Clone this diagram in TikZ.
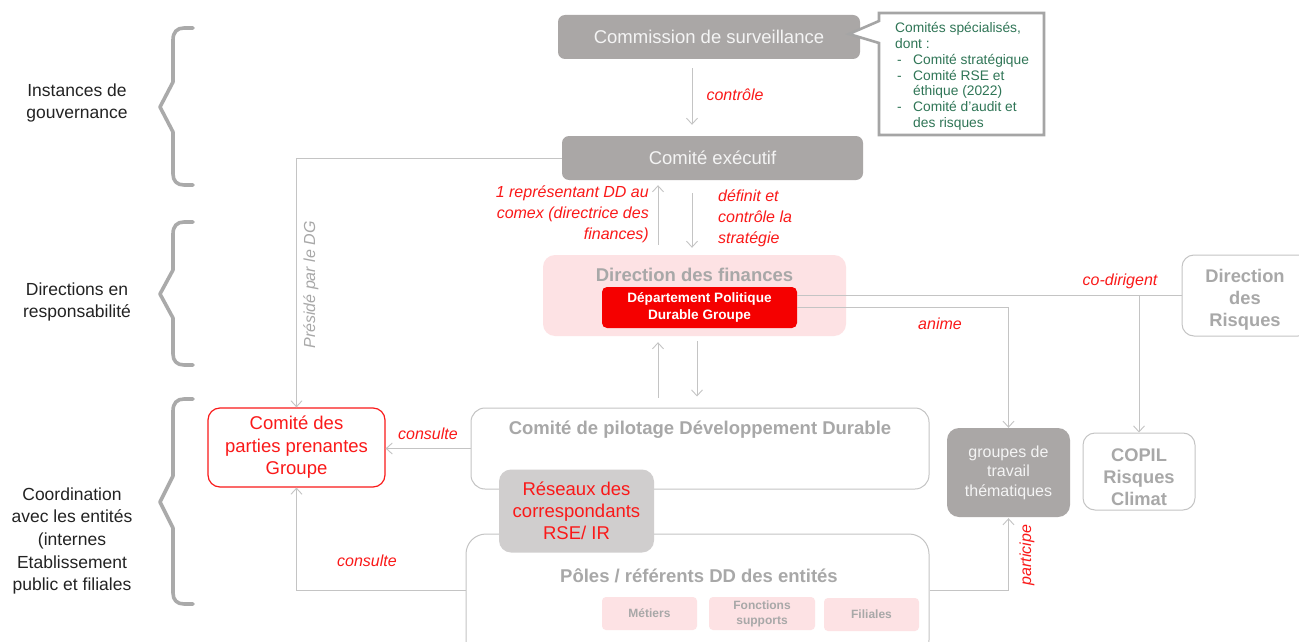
\documentclass[tikz,border=0pt]{standalone}
\usepackage{fontspec}
\setmainfont{Liberation Sans}
\usetikzlibrary{arrows.meta,calc}
\definecolor{boxgray}{RGB}{170,167,166}
\definecolor{boxtext}{RGB}{244,244,244}
\definecolor{lightfill}{RGB}{208,206,206}
\definecolor{pinkfill}{RGB}{253,226,228}
\definecolor{titlegray}{RGB}{168,168,168}
\definecolor{bordergray}{RGB}{196,196,196}
\definecolor{linegray}{RGB}{196,196,196}
\definecolor{redbox}{RGB}{245,0,0}
\definecolor{redtext}{RGB}{250,25,25}
\definecolor{greentext}{RGB}{47,117,86}
\definecolor{bracegray}{RGB}{170,170,170}
\definecolor{sidetext}{RGB}{35,35,35}
\definecolor{callborder}{RGB}{165,165,165}
\newcommand\fsz[2]{\fontsize{#1}{#2}\selectfont}
\tikzset{
  gbox/.style={rounded corners=7pt, fill=boxgray, text=boxtext, inner sep=0pt, align=center, font=\fsz{18.5}{22}},
  wbox/.style={rounded corners=12pt, draw=bordergray, line width=1pt, fill=white, inner sep=0pt},
  ttl/.style={text=titlegray, font=\fsz{18.5}{22}\bfseries, inner sep=0pt, align=center},
  smallpink/.style={rounded corners=4pt, fill=pinkfill, text=titlegray, font=\fsz{12}{15}\bfseries, inner sep=0pt, align=center},
  arr/.style={draw=linegray, line width=0.9pt, -{Straight Barb[length=6pt,width=11pt,line width=0.9pt]}},
  plain/.style={draw=linegray, line width=0.9pt},
  lab/.style={text=redtext, font=\fsz{16}{21}\itshape, inner sep=0pt},
  side/.style={text=sidetext, font=\fsz{17.5}{22.6}, align=center, inner sep=0pt},
  bracestyle/.style={draw=bracegray, line width=3.6pt, line cap=round, line join=round},
}
\begin{document}
\begin{tikzpicture}[x=1pt,y=-1pt]
\useasboundingbox (0,0) rectangle (1299,642);
\clip (0,0) rectangle (1299,642);
\fill[white] (0,0) rectangle (1299,642);

% side labels
\node[side] (l1) at (77,103) {Instances de\\gouvernance};
\node[side] (l2) at (77,302) {Directions en\\responsabilité};
\node[side] (l3) at (72,541) {Coordination\\avec les entités\\(internes\\Etablissement\\public et filiales};

% braces
\draw[bracestyle] (193,28) -- (184,28) .. controls (177,28) and (173,32) .. (173,40) -- (173,82) -- (160,107) -- (173,132) -- (173,174) .. controls (173,181) and (177,185) .. (184,185) -- (193,185);
\draw[bracestyle] (193,222) -- (184,222) .. controls (177,222) and (173,226) .. (173,234) -- (173,270) -- (160,294) -- (173,318) -- (173,354) .. controls (173,361) and (177,365) .. (184,365) -- (193,365);
\draw[bracestyle] (193,399) -- (184,399) .. controls (177,399) and (173,403) .. (173,411) -- (173,476) -- (160,502) -- (173,528) -- (173,593) .. controls (173,600) and (177,604) .. (184,604) -- (193,604);

% governance
\node[gbox, minimum width=302pt, minimum height=44pt] (cs) at (709,37) {Commission de surveillance};
\node[gbox, minimum width=301pt, minimum height=44pt] (ce) at (712.5,158) {Comité exécutif};

% callout
\draw[draw=callborder, line width=2.6pt, fill=white, line join=miter] (879,13) -- (1044,13) -- (1044,135) -- (879,135) -- (879,43) -- (849,34) -- (879,21) -- cycle;
\node[anchor=north west, text=greentext, font=\fsz{13.8}{15.9}, inner sep=0pt, align=left] (ct) at (895,22) {Comités spécialisés,\\dont :\\\hspace*{2pt}\makebox[16pt][l]{-}Comité stratégique\\\hspace*{2pt}\makebox[16pt][l]{-}Comité RSE et\\\hspace*{18pt}éthique (2022)\\\hspace*{2pt}\makebox[16pt][l]{-}Comité d’audit et\\\hspace*{18pt}des risques};

% directions
\node[rounded corners=12pt, fill=pinkfill, minimum width=303pt, minimum height=81pt, inner sep=0pt] (dfin) at (694.5,295.5) {};
\node[ttl] (dfint) at (694.5,275) {Direction des finances};
\node[rounded corners=5pt, fill=redbox, text=white, font=\fsz{13.6}{17.5}\bfseries, align=center, minimum width=195pt, minimum height=41pt, inner sep=0pt] (dpdg) at (699.5,307.5) {Département Politique\\Durable Groupe};
\node[wbox, rounded corners=12pt, minimum width=128pt, minimum height=81pt] (dr) at (1246,295.5) {};
\node[ttl, font=\fsz{18.3}{22}\bfseries] (drt) at (1245,300) {Direction\\des\\Risques};

% coordination
\node[wbox, rounded corners=14pt, minimum width=458pt, minimum height=81pt] (pil) at (700,448.5) {};
\node[ttl] (pilt) at (700,430) {Comité de pilotage Développement Durable};
\node[wbox, rounded corners=20pt, minimum width=463pt, minimum height=126pt] (pol) at (697.5,597) {};
\node[ttl] (polt) at (699,576) {Pôles / référents DD des entités};
\node[smallpink, minimum width=95pt, minimum height=33pt] (met) at (649.5,613.5) {Métiers};
\node[smallpink, minimum width=106pt, minimum height=33pt] (fon) at (762,613.5) {Fonctions\\supports};
\node[smallpink, minimum width=95pt, minimum height=33pt] (fil) at (871.5,614.5) {Filiales};
\node[rounded corners=12pt, fill=lightfill, text=redtext, font=\fsz{18.5}{22}, align=center, minimum width=155pt, minimum height=83pt, inner sep=0pt] (res) at (576.5,511) {Réseaux des\\correspondants\\RSE/ IR};
\node[rounded corners=12pt, draw=redtext, line width=1.2pt, fill=white, text=redtext, font=\fsz{18.5}{22.5}, align=center, minimum width=177pt, minimum height=79pt, inner sep=0pt] (cpp) at (296.5,447.5) {Comité des\\parties prenantes\\Groupe};
\node[gbox, rounded corners=12pt, font=\fsz{16}{19.5}, minimum width=123pt, minimum height=89pt] (grp) at (1008.5,472.5) {groupes de\\travail\\thématiques};
\node[wbox, rounded corners=12pt, minimum width=112pt, minimum height=77pt] (copil) at (1139,471.5) {};
\node[ttl, font=\fsz{18.3}{22}\bfseries] (copilt) at (1139,477) {COPIL\\Risques\\Climat};

% connectors
\draw[arr, shorten <=9pt, shorten >=11pt] ([xshift=-17pt]cs.south) -- ([xshift=-20.5pt]ce.north);
\node[lab] (lctrl) at (735,95) {contrôle};

\draw[arr, shorten <=10pt, shorten >=5pt] ([xshift=-36.5pt]dfin.north) -- ([xshift=-54.5pt]ce.south);
\node[lab, align=right, anchor=east] (lrep) at (649,214) {1 représentant DD au\\comex (directrice des\\finances)};
\draw[arr, shorten <=13pt, shorten >=7pt] ([xshift=-20.5pt]ce.south) -- ([xshift=-2.5pt]dfin.north);
\node[lab, align=left, anchor=west] (ldef) at (718,218) {définit et\\contrôle la\\stratégie};

\draw[arr, shorten <=10pt, shorten >=6pt] ([xshift=-42pt]pil.north) -- ([xshift=-36.5pt]dfin.south);
\draw[arr, shorten <=5pt, shorten >=11pt] ([xshift=2.5pt]dfin.south) -- ([xshift=-3pt]pil.north);

\draw[plain] (dpdg.east |- dr.west) -- (dr.west);
\draw[arr] (copil.north |- dr.west) -- (copil.north);
\node[lab] (lco) at (1120,281) {co-dirigent};

\draw[arr] (dpdg.east) -| (grp.north);
\node[lab] (lan) at (940,324) {anime};

\draw[arr] (ce.west) -| (cpp.north);
\node[lab, text=titlegray, rotate=90] (lpres) at (311,285) {Présidé par le DG};

\draw[arr] (pil.west) -- (pil.west -| cpp.east);
\node[lab] (lcons1) at (428,434) {consulte};

\coordinate (pl) at ([yshift=7pt]pol.west);
\draw[arr] (pl) -| (cpp.south);
\node[lab] (lcons2) at (367,561) {consulte};

\coordinate (pr) at ([yshift=7pt]pol.east);
\draw[arr, shorten >=1pt] (pr) -| (grp.south);
\node[lab, rotate=90] (lpart) at (1027,555) {participe};

\end{tikzpicture}
\end{document}
